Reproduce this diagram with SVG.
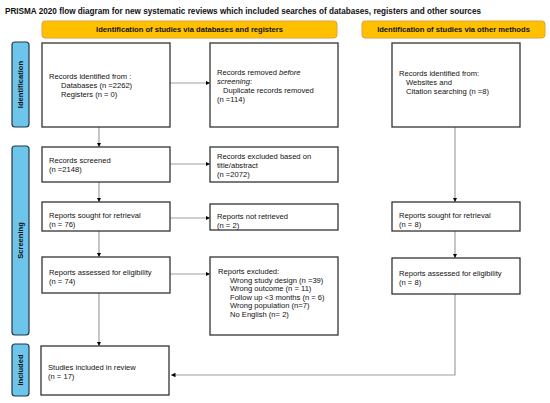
<svg xmlns="http://www.w3.org/2000/svg" width="550" height="403" viewBox="0 0 550 403">
<style>
.box{fill:#fff;stroke:#333;stroke-width:1.3}
.hdr{fill:#ffc000;stroke:#e0a23a;stroke-width:1}
.side{fill:#6dc5ec;stroke:#23374a;stroke-width:1.2}
.t{font-family:"Liberation Sans",Arial,sans-serif;font-size:7.6px;fill:#111}
.b{font-family:"Liberation Sans",Arial,sans-serif;font-size:7.6px;font-weight:bold;fill:#111}
.ttl{font-family:"Liberation Sans",Arial,sans-serif;font-size:9.4px;font-weight:bold;fill:#111}
.c{fill:none;stroke:#a0a0a0;stroke-width:1.2}
</style>
<defs>
<marker id="ah" viewBox="0 0 6 6" refX="6" refY="3" markerWidth="4.5" markerHeight="4.5" markerUnits="userSpaceOnUse" orient="auto"><path d="M0,0 L6,3 L0,6 Z" fill="#000"/></marker>
</defs>
<rect width="550" height="403" fill="#fff"/>
<text class="ttl" x="5" y="14" textLength="476" lengthAdjust="spacingAndGlyphs">PRISMA 2020 flow diagram for new systematic reviews which included searches of databases, registers and other sources</text>

<g id="hdr-db"><rect class="hdr" x="42" y="21" width="295" height="17" rx="3"/><text class="b" x="189.5" y="32" text-anchor="middle">Identification of studies via databases and registers</text></g>
<g id="hdr-other"><rect class="hdr" x="362" y="21" width="183" height="17" rx="3"/><text class="b" x="453.5" y="32" text-anchor="middle">Identification of studies via other methods</text></g>

<g id="side-identification"><rect class="side" x="12" y="42" width="17" height="85" rx="3"/><text class="b" transform="translate(23.3,84.5) rotate(-90)" text-anchor="middle">Identification</text></g>
<g id="side-screening"><rect class="side" x="12" y="146" width="17" height="189" rx="3"/><text class="b" transform="translate(23.3,240.5) rotate(-90)" text-anchor="middle">Screening</text></g>
<g id="side-included"><rect class="side" x="12" y="344" width="17" height="52" rx="3"/><text class="b" transform="translate(23.3,370) rotate(-90)" text-anchor="middle">Included</text></g>

<g id="connectors">
<path class="c" d="M99,127 V147" marker-end="url(#ah)"/>
<path class="c" d="M170,83 H210" marker-end="url(#ah)"/>
<path class="c" d="M170,164 H210" marker-end="url(#ah)"/>
<path class="c" d="M99,182 V202" marker-end="url(#ah)"/>
<path class="c" d="M170,218 H210" marker-end="url(#ah)"/>
<path class="c" d="M99,231 V257" marker-end="url(#ah)"/>
<path class="c" d="M170,274 H210" marker-end="url(#ah)"/>
<path class="c" d="M99,293 V346" marker-end="url(#ah)"/>
<path class="c" d="M455,127 V202" marker-end="url(#ah)"/>
<path class="c" d="M455,231 V258" marker-end="url(#ah)"/>
<path class="c" d="M455,294 V375 H171" marker-end="url(#ah)"/>
</g>

<g id="n-identified"><rect class="box" x="42" y="43" width="128" height="84"/>
<text class="t" x="49" y="79">Records identified from :</text>
<text class="t" x="61" y="88">Databases (n =2262)</text>
<text class="t" x="61" y="97">Registers (n = 0)</text></g>

<g id="n-removed"><rect class="box" x="210" y="43" width="128" height="84"/>
<text class="t" x="217" y="75">Records removed <tspan font-style="italic">before</tspan></text>
<text class="t" x="217" y="84"><tspan font-style="italic">screening</tspan>:</text>
<text class="t" x="223" y="93">Duplicate records removed</text>
<text class="t" x="217" y="102">(n =114)</text></g>

<g id="n-other"><rect class="box" x="392" y="43" width="128" height="84"/>
<text class="t" x="399" y="76">Records identified from:</text>
<text class="t" x="406" y="85">Websites and</text>
<text class="t" x="406" y="94">Citation searching (n =8)</text></g>

<g id="n-screened"><rect class="box" x="42" y="147" width="128" height="35"/>
<text class="t" x="49" y="163">Records screened</text>
<text class="t" x="49" y="172">(n =2148)</text></g>

<g id="n-excluded"><rect class="box" x="210" y="147" width="128" height="35"/>
<text class="t" x="217" y="159">Records excluded based on</text>
<text class="t" x="217" y="168">title/abstract</text>
<text class="t" x="217" y="177">(n =2072)</text></g>

<g id="n-sought"><rect class="box" x="42" y="202" width="128" height="29"/>
<text class="t" x="49" y="218">Reports sought for retrieval</text>
<text class="t" x="49" y="227">(n = 76)</text></g>

<g id="n-notretrieved"><rect class="box" x="210" y="204" width="128" height="26"/>
<text class="t" x="217" y="219">Reports not retrieved</text>
<text class="t" x="217" y="228">(n = 2)</text></g>

<g id="n-sought-other"><rect class="box" x="392" y="202" width="128" height="29"/>
<text class="t" x="399" y="218">Reports sought for retrieval</text>
<text class="t" x="399" y="227">(n = 8)</text></g>

<g id="n-assessed"><rect class="box" x="42" y="257" width="128" height="36"/>
<text class="t" x="49" y="275">Reports assessed for eligibility</text>
<text class="t" x="49" y="284">(n = 74)</text></g>

<g id="n-reportsexcluded"><rect class="box" x="210" y="257" width="128" height="78"/>
<text class="t" x="218" y="274">Reports excluded:</text>
<text class="t" x="230" y="282.6">Wrong study design (n =39)</text>
<text class="t" x="230" y="291.2">Wrong outcome (n = 11)</text>
<text class="t" x="230" y="299.8">Follow up &lt;3 months (n = 6)</text>
<text class="t" x="230" y="308.4">Wrong population (n=7)</text>
<text class="t" x="230" y="317">No English (n= 2)</text></g>

<g id="n-assessed-other"><rect class="box" x="392" y="258" width="128" height="36"/>
<text class="t" x="399" y="276">Reports assessed for eligibility</text>
<text class="t" x="399" y="285">(n = 8)</text></g>

<g id="n-included"><rect class="box" x="41" y="346" width="128" height="49"/>
<text class="t" x="48" y="370">Studies included in review</text>
<text class="t" x="48" y="379">(n = 17)</text></g>
</svg>
